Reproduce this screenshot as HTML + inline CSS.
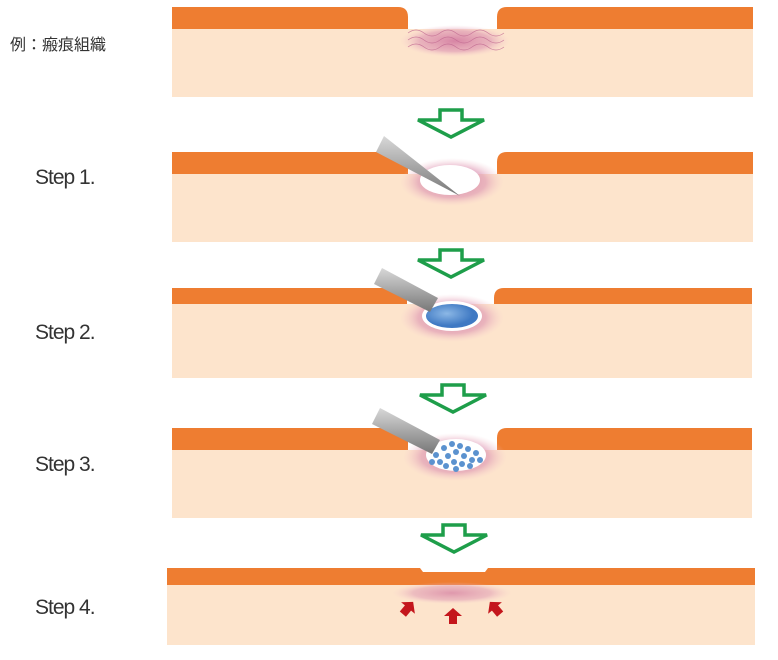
<!DOCTYPE html>
<html><head><meta charset="utf-8"><style>
body{margin:0;background:#fff;width:778px;height:660px;overflow:hidden;font-family:"Liberation Sans","Noto Sans CJK JP",sans-serif}
.l{position:absolute;font-size:21px;color:#333;letter-spacing:-1px}
</style></head><body>
<svg width="778" height="660" style="position:absolute;left:0;top:0">
<defs>
<radialGradient id="pk"><stop offset="0" stop-color="#d37aa0" stop-opacity=".9"/><stop offset=".65" stop-color="#dc93b2" stop-opacity=".6"/><stop offset="1" stop-color="#f5c9cf" stop-opacity="0"/></radialGradient>
<linearGradient id="nd" x1="0" y1="0" x2="0" y2="1"><stop offset="0" stop-color="#d8d8d8"/><stop offset="1" stop-color="#777"/></linearGradient>
<radialGradient id="bl" cx=".4" cy=".4"><stop offset="0" stop-color="#8cb8e6"/><stop offset="1" stop-color="#3f79c3"/></radialGradient>
<g id="ar"><path d="M-11,0 h22 v10 h22 l-33,17 l-33,-17 h22 z" fill="#fff" stroke="#1e9e4a" stroke-width="3.5" stroke-linejoin="miter"/></g>
<path id="ra" d="M0,-8 l-9,8 h5 v8 h8 v-8 h5 z" fill="#c4161c"/>
</defs>
<!-- panel 0 -->
<rect x="172" y="29" width="581" height="68" fill="#fde4cc"/>
<path d="M172,7 H398 Q408,7 408,17 V29 H172 Z" fill="#ee7d31"/>
<path d="M753,7 H507 Q497,7 497,17 V29 H753 Z" fill="#ee7d31"/>
<ellipse cx="455" cy="41" rx="55" ry="16" fill="url(#pk)"/>
<g stroke="#c06890" stroke-width=".7" fill="none" opacity=".8">
<path d="M408,33 q8,-6 16,0 q8,6 16,0 q8,-6 16,0 q8,6 16,0 q8,-6 16,0 q8,6 16,0"/><path d="M408,40 q8,-6 16,0 q8,6 16,0 q8,-6 16,0 q8,6 16,0 q8,-6 16,0 q8,6 16,0"/><path d="M408,47 q8,-6 16,0 q8,6 16,0 q8,-6 16,0 q8,6 16,0 q8,-6 16,0 q8,6 16,0"/></g>
<use href="#ar" x="451" y="110"/>
<!-- panel 1 -->
<rect x="172" y="174" width="581" height="68" fill="#fde4cc"/>
<path d="M172,152 H398 Q408,152 408,162 V174 H172 Z" fill="#ee7d31"/>
<path d="M753,152 H507 Q497,152 497,162 V174 H753 Z" fill="#ee7d31"/>
<ellipse cx="452" cy="182" rx="52" ry="24" fill="url(#pk)"/>
<ellipse cx="450" cy="180" rx="30" ry="15" fill="#fff"/>
<polygon points="384,136 376,152 460,196" fill="url(#nd)"/>
<use href="#ar" x="451" y="250"/>
<!-- panel 2 -->
<rect x="172" y="304" width="580" height="74" fill="#fde4cc"/>
<path d="M172,288 H397 Q407,288 407,298 V304 H172 Z" fill="#ee7d31"/>
<path d="M752,288 H504 Q494,288 494,298 V304 H752 Z" fill="#ee7d31"/>
<ellipse cx="452" cy="318" rx="52" ry="24" fill="url(#pk)"/>
<ellipse cx="452" cy="316" rx="30" ry="15" fill="#fff"/>
<ellipse cx="452" cy="316" rx="26" ry="12" fill="url(#bl)"/>
<polygon points="382,268 374,284 430,312 438,298" fill="url(#nd)"/>
<use href="#ar" x="453" y="385"/>
<!-- panel 3 -->
<rect x="172" y="450" width="580" height="68" fill="#fde4cc"/>
<path d="M172,428 H398 Q408,428 408,438 V450 H172 Z" fill="#ee7d31"/>
<path d="M752,428 H507 Q497,428 497,438 V450 H752 Z" fill="#ee7d31"/>
<ellipse cx="455" cy="457" rx="52" ry="24" fill="url(#pk)"/>
<ellipse cx="456" cy="455" rx="30" ry="16" fill="#fff"/>
<g fill="#5b92cf">
<circle cx="436" cy="455" r="3"/><circle cx="444" cy="448" r="3"/><circle cx="452" cy="444" r="3"/><circle cx="460" cy="446" r="3"/><circle cx="468" cy="449" r="3"/><circle cx="476" cy="453" r="3"/><circle cx="440" cy="462" r="3"/><circle cx="448" cy="456" r="3"/><circle cx="456" cy="452" r="3"/><circle cx="464" cy="456" r="3"/><circle cx="472" cy="460" r="3"/><circle cx="446" cy="466" r="3"/><circle cx="454" cy="462" r="3"/><circle cx="462" cy="464" r="3"/><circle cx="470" cy="466" r="3"/><circle cx="480" cy="460" r="3"/><circle cx="456" cy="469" r="3"/><circle cx="432" cy="462" r="3"/></g>
<polygon points="380,408 372,424 432,454 440,440" fill="url(#nd)"/>
<use href="#ar" x="454" y="525"/>
<!-- panel 4 -->
<rect x="167" y="585" width="588" height="60" fill="#fde4cc"/>
<rect x="167" y="568" width="588" height="17" fill="#ee7d31"/>
<path d="M420,568 H488 L485,572 H423 Z" fill="#fff"/>
<ellipse cx="452" cy="593" rx="60" ry="11" fill="url(#pk)" opacity=".8"/>
<use href="#ra" transform="translate(453,616)"/>
<use href="#ra" transform="translate(408,608) rotate(40)"/>
<use href="#ra" transform="translate(495,608) rotate(-40)"/>
</svg>
<div class="l" style="left:10px;top:31px;font-size:16px;letter-spacing:0">例：瘢痕組織</div>
<div class="l" style="left:35px;top:166px">Step 1.</div>
<div class="l" style="left:35px;top:321px">Step 2.</div>
<div class="l" style="left:35px;top:453px">Step 3.</div>
<div class="l" style="left:35px;top:596px">Step 4.</div>
</body></html>
